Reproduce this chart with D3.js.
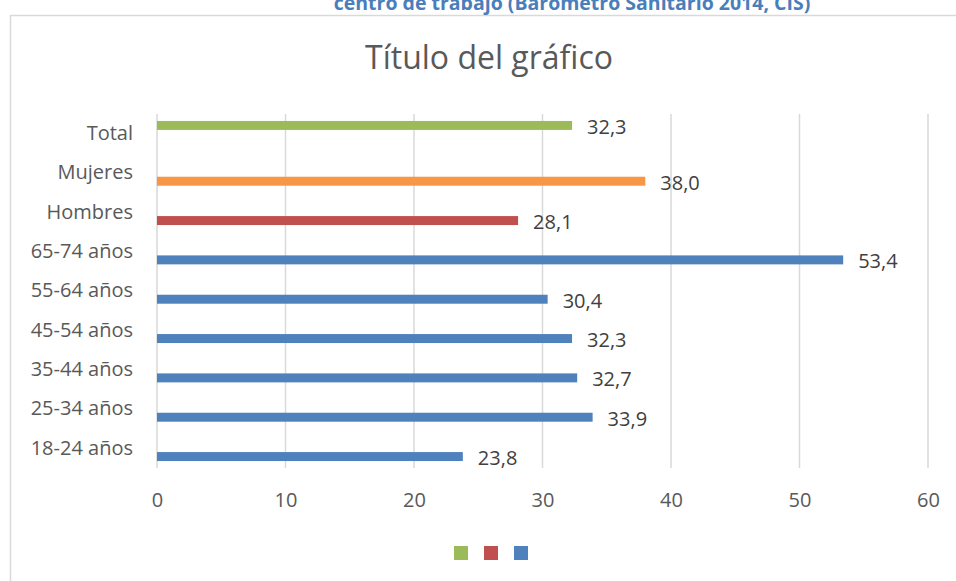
<!DOCTYPE html>
<html>
<head>
<meta charset="utf-8">
<script src="https://cdn.jsdelivr.net/npm/d3@7/dist/d3.min.js"></script>
<style>
  body { margin: 0; background: #fff; }
  svg { display: block; font-family: "Open Sans", sans-serif; }
</style>
</head>
<body>
<svg id="chart" width="956" height="581"></svg>
<script>
// categories top to bottom, as shown
const categories = ['Total', 'Mujeres', 'Hombres', '65-74 años', '55-64 años', '45-54 años', '35-44 años', '25-34 años', '18-24 años'];
const values = [32.3, 38.0, 28.1, 53.4, 30.4, 32.3, 32.7, 33.9, 23.8];
// which series each bar belongs to (0 green, 1 red, 2 blue)
const seriesOf = [0, 1, 1, 2, 2, 2, 2, 2, 2];
const seriesNames = ['', '', ''];
const seriesColors = ['#9bbb59', '#c0504d', '#4f81bd'];
// Mujeres point has its own colour
const pointColors = { 'Mujeres': '#f79646' };
const xTicks = [0, 10, 20, 30, 40, 50, 60];
const supTitle = 'centro de trabajo (Barómetro Sanitario 2014, CIS)';
const chartTitle = 'Título del gráfico';

const svg = d3.select('#chart');
const plot = { left: 157, right: 928, top: 114, bottom: 468 };

// chart area border (runs off the right/bottom edge)
svg.append('rect')
    .attr('x', 10.5).attr('y', 15.5)
    .attr('width', 962).attr('height', 600)
    .attr('fill', '#fff')
    .attr('stroke', '#d9d9d9')
    .attr('stroke-width', 1.5);

// heading of the document above the chart, cut by the top edge as in the source
svg.append('text')
    .attr('x', 572).attr('y', 10)
    .attr('text-anchor', 'middle')
    .attr('font-size', 19.5)
    .attr('font-weight', 'bold')
    .attr('fill', '#4a7ebb')
    .text(supTitle);

svg.append('text')
    .attr('x', 489).attr('y', 69)
    .attr('text-anchor', 'middle')
    .attr('font-size', 32)
    .attr('fill', '#595959')
    .text(chartTitle);

const x = d3.scaleLinear().domain([0, 60]).range([plot.left, plot.right]);
const y = d3.scaleBand().domain(categories).range([plot.top, plot.bottom]);
// two bar slots inside each category band: green on top, the rest below
const slot = d3.scaleBand().domain([0, 1]).range([0, y.bandwidth()])
    .paddingInner(0.4545).paddingOuter(0.424);
const slotOf = (s) => (s === 0 ? 0 : 1);

// gridlines
svg.append('g').selectAll('line').data(xTicks).join('line')
    .attr('x1', (d) => x(d)).attr('x2', (d) => x(d))
    .attr('y1', plot.top).attr('y2', plot.bottom)
    .attr('stroke', '#d9d9d9')
    .attr('stroke-width', 1.5);

// x axis tick labels
const xAxis = d3.axisBottom(x).tickValues(xTicks).tickSize(0).tickPadding(0);
svg.append('g')
    .attr('transform', 'translate(0,' + plot.bottom + ')')
    .call(xAxis)
    .call((g) => g.select('.domain').remove())
    .call((g) => g.selectAll('text')
        .attr('y', 39)
        .attr('dy', null)
        .attr('font-size', 20)
        .attr('font-family', '"Open Sans", sans-serif')
        .attr('fill', '#595959'));

// category labels
const yAxis = d3.axisLeft(y).tickSize(0).tickPadding(24);
svg.append('g')
    .attr('transform', 'translate(' + plot.left + ',0)')
    .call(yAxis)
    .call((g) => g.select('.domain').remove())
    .call((g) => g.selectAll('text')
        .attr('font-size', 20)
        .attr('font-family', '"Open Sans", sans-serif')
        .attr('fill', '#595959'));

const rows = categories.map((c, i) => ({ cat: c, value: values[i], series: seriesOf[i] }));

// bars
svg.append('g').selectAll('rect').data(rows).join('rect')
    .attr('x', x(0))
    .attr('y', (d) => y(d.cat) + slot(slotOf(d.series)))
    .attr('width', (d) => x(d.value) - x(0))
    .attr('height', slot.bandwidth())
    .attr('fill', (d) => pointColors[d.cat] || seriesColors[d.series]);

// data labels
svg.append('g').selectAll('text').data(rows).join('text')
    .attr('x', (d) => x(d.value) + 15)
    .attr('y', (d) => y(d.cat) + slot(slotOf(d.series)) + slot.bandwidth() / 2 + 1)
    .attr('dominant-baseline', 'central')
    .attr('font-size', 20)
    .attr('fill', '#404040')
    .text((d) => d3.format('.1f')(d.value).replace('.', ','));

// legend (squares only, series have no names)
const legendX = d3.scaleBand().domain(d3.range(seriesNames.length)).range([446, 536]);
const legend = svg.append('g').selectAll('g').data(seriesNames).join('g')
    .attr('transform', (d, i) => 'translate(' + (legendX(i) + 8) + ',546)');
legend.append('rect')
    .attr('width', 14).attr('height', 14)
    .attr('fill', (d, i) => seriesColors[i]);
legend.append('text')
    .attr('x', 18).attr('y', 7)
    .attr('dominant-baseline', 'central')
    .attr('font-size', 16)
    .attr('fill', '#595959')
    .text((d) => d);
</script>
</body>
</html>
